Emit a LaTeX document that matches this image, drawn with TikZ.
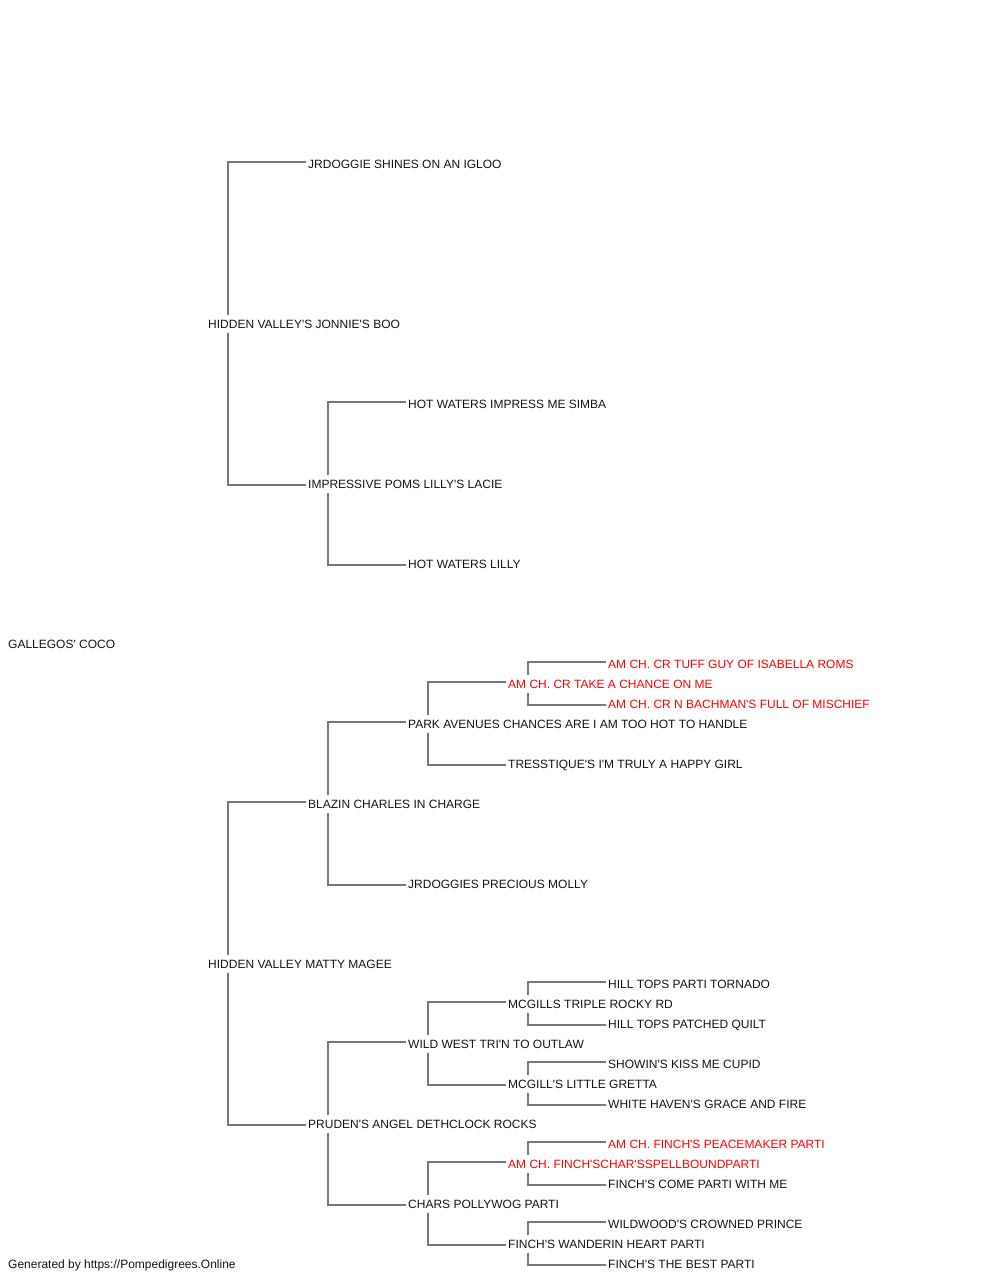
\documentclass[tikz,border=0pt]{standalone}
\usepackage{fontspec}
\setmainfont{Liberation Sans}[Ligatures=TeXOff]
\usetikzlibrary{positioning}
\definecolor{linkgray}{RGB}{120,120,120}
\definecolor{textblack}{RGB}{20,20,20}

\begin{document}
\begin{tikzpicture}[x=1pt,y=-1pt,
    dog/.style={anchor=west,inner xsep=2pt,inner ysep=0pt,minimum height=18pt,
        text height=8.6pt,text depth=0pt,text=textblack,
        font=\fontsize{12}{14}\selectfont},
    champ/.style={dog,text=red},
    link/.style={draw=linkgray,line width=1.5pt}]
    \useasboundingbox (0,0) rectangle (1000,1280);
    % generation 1
    \node[dog] (coco) at (6,644) {GALLEGOS' COCO};
    % generation 2
    \node[dog] (jonnie) at (206,324) {HIDDEN VALLEY'S JONNIE'S BOO};
    \node[dog] (matty) at (206,964) {HIDDEN VALLEY MATTY MAGEE};
    % generation 3
    \node[dog] (igloo) at (306,164) {JRDOGGIE SHINES ON AN IGLOO};
    \node[dog] (lacie) at (306,484) {IMPRESSIVE POMS LILLY'S LACIE};
    \node[dog] (blazin) at (306,804) {BLAZIN CHARLES IN CHARGE};
    \node[dog] (pruden) at (306,1124) {PRUDEN'S ANGEL DETHCLOCK ROCKS};
    % generation 4
    \node[dog] (simba) at (406,404) {HOT WATERS IMPRESS ME SIMBA};
    \node[dog] (lilly) at (406,564) {HOT WATERS LILLY};
    \node[dog] (park) at (406,724) {PARK AVENUES CHANCES ARE I AM TOO HOT TO HANDLE};
    \node[dog] (molly) at (406,884) {JRDOGGIES PRECIOUS MOLLY};
    \node[dog] (wildwest) at (406,1044) {WILD WEST TRI'N TO OUTLAW};
    \node[dog] (pollywog) at (406,1204) {CHARS POLLYWOG PARTI};
    % generation 5
    \node[champ] (chance) at (506,684) {AM CH. CR TAKE A CHANCE ON ME};
    \node[dog] (tresstique) at (506,764) {TRESSTIQUE'S I'M TRULY A HAPPY GIRL};
    \node[dog] (triple) at (506,1004) {MCGILLS TRIPLE ROCKY RD};
    \node[dog] (gretta) at (506,1084) {MCGILL'S LITTLE GRETTA};
    \node[champ] (spellbound) at (506,1164) {AM CH. FINCH'SCHAR'SSPELLBOUNDPARTI};
    \node[dog] (wanderin) at (506,1244) {FINCH'S WANDERIN HEART PARTI};
    % generation 6
    \node[champ] (tuff) at (606,664) {AM CH. CR TUFF GUY OF ISABELLA ROMS};
    \node[champ] (bachman) at (606,704) {AM CH. CR N BACHMAN'S FULL OF MISCHIEF};
    \node[dog] (tornado) at (606,984) {HILL TOPS PARTI TORNADO};
    \node[dog] (quilt) at (606,1024) {HILL TOPS PATCHED QUILT};
    \node[dog] (cupid) at (606,1064) {SHOWIN'S KISS ME CUPID};
    \node[dog] (whitehaven) at (606,1104) {WHITE HAVEN'S GRACE AND FIRE};
    \node[champ] (peacemaker) at (606,1144) {AM CH. FINCH'S PEACEMAKER PARTI};
    \node[dog] (comeparti) at (606,1184) {FINCH'S COME PARTI WITH ME};
    \node[dog] (wildwood) at (606,1224) {WILDWOOD'S CROWNED PRINCE};
    \node[dog] (bestparti) at (606,1264) {FINCH'S THE BEST PARTI};
    % footer
    \node[dog] (footer) at (6,1264) {Generated by https://Pompedigrees.Online};

    % sire and dam brackets
    \foreach \parent/\sire/\dam in {jonnie/igloo/lacie, lacie/simba/lilly,
        matty/blazin/pruden, blazin/park/molly, park/chance/tresstique,
        chance/tuff/bachman, pruden/wildwest/pollywog, wildwest/triple/gretta,
        triple/tornado/quilt, gretta/cupid/whitehaven, pollywog/spellbound/wanderin,
        spellbound/peacemaker/comeparti, wanderin/wildwood/bestparti} {
        \path[link] ([xshift=22pt]\parent.north west) |- ([yshift=2pt]\sire.west);
        \path[link] ([xshift=22pt]\parent.south west) |- ([yshift=-1pt]\dam.west);
    }
\end{tikzpicture}
\end{document}
